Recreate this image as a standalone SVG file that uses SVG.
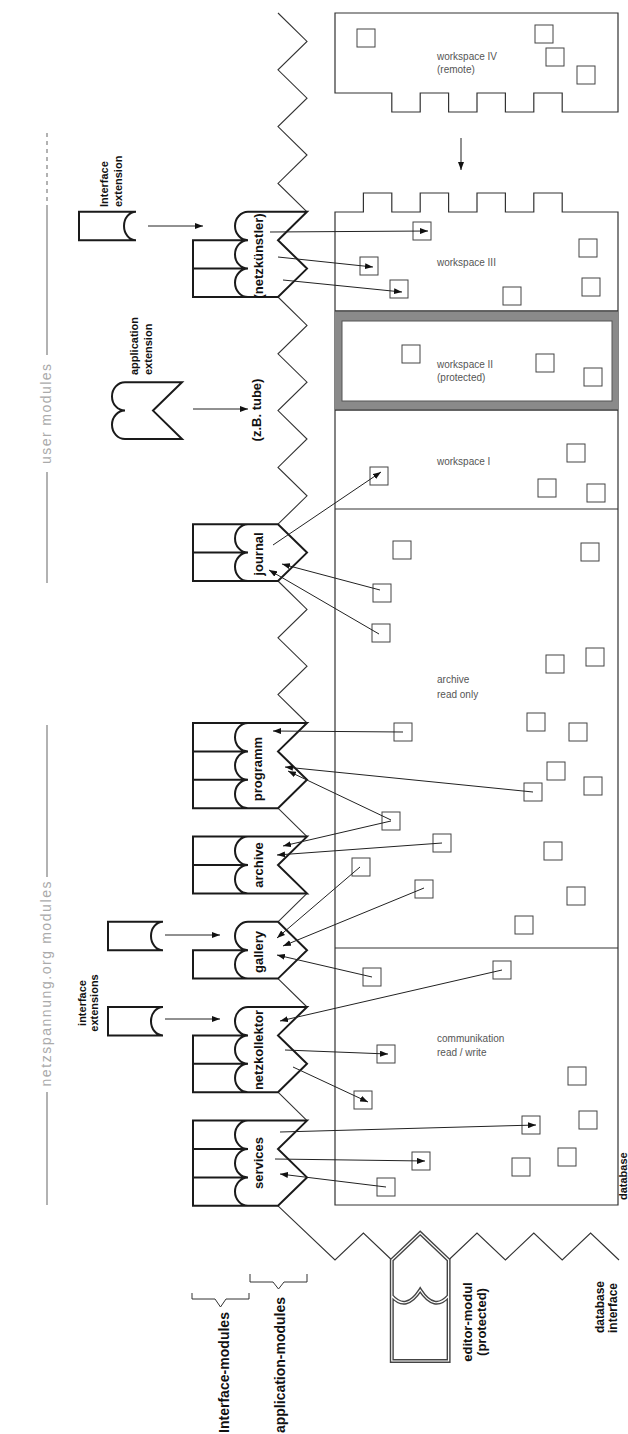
<svg xmlns="http://www.w3.org/2000/svg" width="628" height="1434" viewBox="0 0 628 1434">
<style>
.mod{fill:none;stroke:#1a1a1a;stroke-width:2;stroke-linejoin:miter}
.zig{fill:none;stroke:#333;stroke-width:1.1}
.frame{fill:none;stroke:#333;stroke-width:1.2}
.sq{fill:none;stroke:#444;stroke-width:1}
.arr{fill:none;stroke:#222;stroke-width:1;marker-end:url(#ah)}
.ml{font-family:"Liberation Sans",Arial,sans-serif;font-size:13px;font-weight:bold;fill:#111;text-anchor:middle}
.bl{font-family:"Liberation Sans",Arial,sans-serif;font-size:11px;font-weight:bold;fill:#111}
.ws{font-family:"Liberation Sans",Arial,sans-serif;font-size:10px;fill:#555}
.gl{font-family:"Liberation Sans",Arial,sans-serif;font-size:14px;fill:#aaa;text-anchor:middle}
.gline{fill:none;stroke:#999;stroke-width:1.5}
</style>
<defs>
<marker id="ah" viewBox="0 0 8 6" refX="8" refY="3" markerWidth="8" markerHeight="6" markerUnits="userSpaceOnUse" orient="auto"><path d="M0,0 L8,3 L0,6 z" fill="#111"/></marker>
</defs>
<rect width="628" height="1434" fill="#fff"/>

<g id="side-labels">
<path class="gline" d="M47,133 V205" stroke-dasharray="4 4"/>
<path class="gline" d="M47,205 V355 M47,472 V583 M47,725 V877 M47,1092 V1205"/>
<text class="gl" transform="translate(51,414) rotate(-90)" textLength="100" lengthAdjust="spacing">user modules</text>
<text class="gl" transform="translate(51,984) rotate(-90)" textLength="205" lengthAdjust="spacing">netzspannung.org modules</text>
</g>

<g id="workspace-IV">
<path class="frame" d="M335,13 H618 V112 H562.2 V93 H533.8 V112 H505.4 V93 H477 V112 H448.6 V93 H420.2 V112 H391.8 V93 H335 Z"/>
<text class="ws" x="437" y="60">workspace IV</text>
<text class="ws" x="437" y="73">(remote)</text>
<rect class="sq" x="357" y="29" width="18" height="18"/>
<rect class="sq" x="535" y="25" width="18" height="18"/>
<rect class="sq" x="546" y="48" width="18" height="18"/>
<rect class="sq" x="577" y="66" width="18" height="18"/>
</g>

<g id="database">
<path class="frame" d="M335,212 H363.4 V193 H391.8 V212 H420.2 V193 H448.6 V212 H477 V193 H505.4 V212 H533.8 V193 H562.2 V212 H618 V1205 H335 Z"/>
<path class="frame" d="M335,311 H618 M335,410 H618 M335,509 H618 M335,948 H618"/>
<path d="M335,311 H618 V410 H335 Z M342,321 V401 H612 V321 Z" fill="#8a8a8a" fill-rule="evenodd"/>
<rect x="342" y="321" width="270" height="80" fill="none" stroke="#555" stroke-width="1"/>
<path class="frame" d="M335,311 H618 M335,410 H618"/>
<text class="bl" transform="translate(627,1200) rotate(-90)">database</text>
</g>

<g id="workspace-III">
<text class="ws" x="437" y="266">workspace III</text>
<rect class="sq" x="413" y="222" width="18" height="18"/>
<rect class="sq" x="360" y="257" width="18" height="18"/>
<rect class="sq" x="390" y="280" width="18" height="18"/>
<rect class="sq" x="503" y="287" width="18" height="18"/>
<rect class="sq" x="579" y="239" width="18" height="18"/>
<rect class="sq" x="582" y="278" width="18" height="18"/>
</g>

<g id="workspace-II">
<text class="ws" x="437" y="368">workspace II</text>
<text class="ws" x="437" y="381">(protected)</text>
<rect class="sq" x="402" y="345" width="18" height="18"/>
<rect class="sq" x="536" y="354" width="18" height="18"/>
<rect class="sq" x="584" y="368" width="18" height="18"/>
</g>

<g id="workspace-I">
<text class="ws" x="437" y="465">workspace I</text>
<rect class="sq" x="370" y="467" width="18" height="18"/>
<rect class="sq" x="567" y="444" width="18" height="18"/>
<rect class="sq" x="538" y="479" width="18" height="18"/>
<rect class="sq" x="587" y="484" width="18" height="18"/>
</g>

<g id="archive-area">
<text class="ws" x="437" y="683">archive</text>
<text class="ws" x="437" y="698">read only</text>
<rect class="sq" x="393" y="541" width="18" height="18"/>
<rect class="sq" x="581" y="543" width="18" height="18"/>
<rect class="sq" x="373" y="584" width="18" height="18"/>
<rect class="sq" x="372" y="624" width="18" height="18"/>
<rect class="sq" x="546" y="655" width="18" height="18"/>
<rect class="sq" x="586" y="648" width="18" height="18"/>
<rect class="sq" x="394" y="723" width="18" height="18"/>
<rect class="sq" x="527" y="713" width="18" height="18"/>
<rect class="sq" x="569" y="723" width="18" height="18"/>
<rect class="sq" x="547" y="762" width="18" height="18"/>
<rect class="sq" x="584" y="777" width="18" height="18"/>
<rect class="sq" x="524" y="783" width="18" height="18"/>
<rect class="sq" x="382" y="812" width="18" height="18"/>
<rect class="sq" x="433" y="834" width="18" height="18"/>
<rect class="sq" x="544" y="842" width="18" height="18"/>
<rect class="sq" x="352" y="858" width="18" height="18"/>
<rect class="sq" x="415" y="880" width="18" height="18"/>
<rect class="sq" x="567" y="887" width="18" height="18"/>
<rect class="sq" x="515" y="916" width="18" height="18"/>
</g>

<g id="communikation-area">
<text class="ws" x="437" y="1042">communikation</text>
<text class="ws" x="437" y="1056">read / write</text>
<rect class="sq" x="363" y="968" width="18" height="18"/>
<rect class="sq" x="493" y="961" width="18" height="18"/>
<rect class="sq" x="377" y="1045" width="18" height="18"/>
<rect class="sq" x="354" y="1091" width="18" height="18"/>
<rect class="sq" x="568" y="1067" width="18" height="18"/>
<rect class="sq" x="522" y="1116" width="18" height="18"/>
<rect class="sq" x="579" y="1111" width="18" height="18"/>
<rect class="sq" x="412" y="1152" width="18" height="18"/>
<rect class="sq" x="512" y="1158" width="18" height="18"/>
<rect class="sq" x="558" y="1148" width="18" height="18"/>
<rect class="sq" x="377" y="1178" width="18" height="18"/>
</g>

<g id="database-interface">
<path class="zig" d="M278,13 L307,41.4 L278,69.8 L307,98.2 L278,126.6 L307,155 L278,183.4 L307,211.8 M278,297 L307,325.4 L278,353.8 L307,382.2 L278,410.6 L307,439 L278,467.4 L307,495.8 L278,524.2 M278,581 L307,609.4 L278,637.8 L307,666.2 L278,694.6 L307,723 M278,808.2 L307,836.6 M307,893.4 L278,921.8 M278,978.6 L307,1007 M278,1092.2 L307,1120.6 M278,1205.8 L335,1260 L363.4,1233 L391.8,1260 M448.6,1260 L477,1233 L505.4,1260 L533.8,1233 L562.2,1260 L590.6,1233 L619,1260"/>
<text class="bl" transform="translate(604,1333) rotate(-90)" style="font-size:12px">database</text>
<text class="bl" transform="translate(617,1333) rotate(-90)" style="font-size:12px">interface</text>
</g>

<g id="netzkuenstler">
<path class="mod" d="M248,211.8 H307 L278,240.2 L307,268.6 L278,297 H193 V240.2 H248 M193,268.6 H248 M248,211.8 A13,14.2 0 0 0 248,240.2 A13,14.2 0 0 0 248,268.6 A13,14.2 0 0 0 248,297"/>
<text class="ml" transform="translate(263,256) rotate(-90)">(netzkünstler)</text>
</g>
<g id="interface-extension-top">
<path class="mod" d="M136,211.8 H79 V240.2 H136 A12,14.2 0 0 1 136,211.8"/>
<text class="bl" transform="translate(108,207) rotate(-90)">Interface</text>
<text class="bl" transform="translate(122,207) rotate(-90)">extension</text>
</g>
<g id="application-extension">
<path class="mod" d="M125,382.2 H182 L153,410.6 L182,439 H125 M125,382.2 A13,14.2 0 0 0 125,410.6 A13,14.2 0 0 0 125,439"/>
<text class="bl" transform="translate(138,375) rotate(-90)">application</text>
<text class="bl" transform="translate(152,375) rotate(-90)">extension</text>
<text class="ml" transform="translate(261,410) rotate(-90)">(z.B. tube)</text>
</g>
<g id="journal">
<path class="mod" d="M193,524.2 H278 L307,552.6 L278,581 H193 Z M193,552.6 H248 M248,524.2 A13,14.2 0 0 0 248,552.6 A13,14.2 0 0 0 248,581"/>
<text class="ml" transform="translate(263,554) rotate(-90)">journal</text>
</g>
<g id="programm">
<path class="mod" d="M193,723 H307 L278,751.4 L307,779.8 L278,808.2 H193 Z M193,751.4 H248 M193,779.8 H248 M248,723 A13,14.2 0 0 0 248,751.4 A13,14.2 0 0 0 248,779.8 A13,14.2 0 0 0 248,808.2"/>
<text class="ml" transform="translate(262,769) rotate(-90)">programm</text>
</g>
<g id="archive">
<path class="mod" d="M193,836.6 H307 L278,865 L307,893.4 H193 Z M193,865 H248 M248,836.6 A13,14.2 0 0 0 248,865 A13,14.2 0 0 0 248,893.4"/>
<text class="ml" transform="translate(263,865) rotate(-90)">archive</text>
</g>
<g id="gallery">
<path class="mod" d="M248,921.8 H278 L307,950.2 L278,978.6 H193 V950.2 H248 M248,921.8 A13,14.2 0 0 0 248,950.2 A13,14.2 0 0 0 248,978.6"/>
<text class="ml" transform="translate(263,952) rotate(-90)">gallery</text>
</g>
<g id="gallery-extension">
<path class="mod" d="M163,921.8 H108 V950.2 H163 A12,14.2 0 0 1 163,921.8"/>
</g>
<g id="netzkollektor">
<path class="mod" d="M248,1007 H307 L278,1035.4 L307,1063.8 L278,1092.2 H193 V1035.4 H248 M193,1063.8 H248 M248,1007 A13,14.2 0 0 0 248,1035.4 A13,14.2 0 0 0 248,1063.8 A13,14.2 0 0 0 248,1092.2"/>
<text class="ml" transform="translate(263,1050) rotate(-90)">netzkollektor</text>
</g>
<g id="netzkollektor-extension">
<path class="mod" d="M163,1007 H108 V1035.4 H163 A12,14.2 0 0 1 163,1007"/>
<text class="bl" transform="translate(86,1003) rotate(-90)" text-anchor="middle">interface</text>
<text class="bl" transform="translate(98,1003) rotate(-90)" text-anchor="middle">extensions</text>
</g>
<g id="services">
<path class="mod" d="M193,1120.6 H307 L278,1149 L307,1177.4 L278,1205.8 H193 Z M193,1149 H248 M193,1177.4 H248 M248,1120.6 A13,14.2 0 0 0 248,1149 A13,14.2 0 0 0 248,1177.4 A13,14.2 0 0 0 248,1205.8"/>
<text class="ml" transform="translate(263,1163) rotate(-90)">services</text>
</g>
<g id="editor-modul">
<path d="M391.8,1361 V1260 L420.2,1233 L448.6,1260 V1361 Z M391.8,1296 Q406,1312 420.2,1290 Q434.4,1312 448.6,1296" fill="none" stroke="#444" stroke-width="4"/>
<path d="M391.8,1361 V1260 L420.2,1233 L448.6,1260 V1361 Z M391.8,1296 Q406,1312 420.2,1290 Q434.4,1312 448.6,1296" fill="none" stroke="#fff" stroke-width="1.2"/>
<text class="ml" transform="translate(472,1322) rotate(-90)">editor-modul</text>
<text class="ml" transform="translate(486,1322) rotate(-90)">(protected)</text>
</g>
<g id="legend">
<path d="M192,1293 V1299 H215 L220.5,1307 L226,1299 H249 V1293 M250,1274 V1282 H273 L278.5,1289 L284,1282 H307 V1274" fill="none" stroke="#333" stroke-width="1"/>
<text class="bl" transform="translate(229,1433) rotate(-90)" style="font-size:14px" textLength="121" lengthAdjust="spacingAndGlyphs">Interface-modules</text>
<text class="bl" transform="translate(285,1433) rotate(-90)" style="font-size:14px" textLength="136" lengthAdjust="spacingAndGlyphs">application-modules</text>
</g>

<g id="connectors">
<path class="arr" d="M461,138 V170"/>
<path class="arr" d="M148,226 H203"/>
<path class="arr" d="M193,409 H248"/>
<path class="arr" d="M165,935 H220"/>
<path class="arr" d="M165,1019 H220"/>
<path class="arr" d="M270,232 L428,231"/>
<path class="arr" d="M278,257 L373,267"/>
<path class="arr" d="M283,280 L402,292"/>
<path class="arr" d="M273,545 L381,472"/>
<path class="arr" d="M380,590 L282,564"/>
<path class="arr" d="M379,634 L269,570"/>
<path class="arr" d="M403,732 L273,731"/>
<path class="arr" d="M533,792 L285,767"/>
<path class="arr" d="M391,820 L288,771"/>
<path class="arr" d="M391,821 L283,846"/>
<path class="arr" d="M442,843 L277,855"/>
<path class="arr" d="M360,867 L277,938"/>
<path class="arr" d="M424,888 L283,946"/>
<path class="arr" d="M372,977 L277,955"/>
<path class="arr" d="M502,970 L280,1021"/>
<path class="arr" d="M285,1050 L388,1054"/>
<path class="arr" d="M293,1067 L368,1102"/>
<path class="arr" d="M280,1132 L536,1125"/>
<path class="arr" d="M275,1159 L425,1161"/>
<path class="arr" d="M386,1187 L280,1174"/>
</g>
</svg>
